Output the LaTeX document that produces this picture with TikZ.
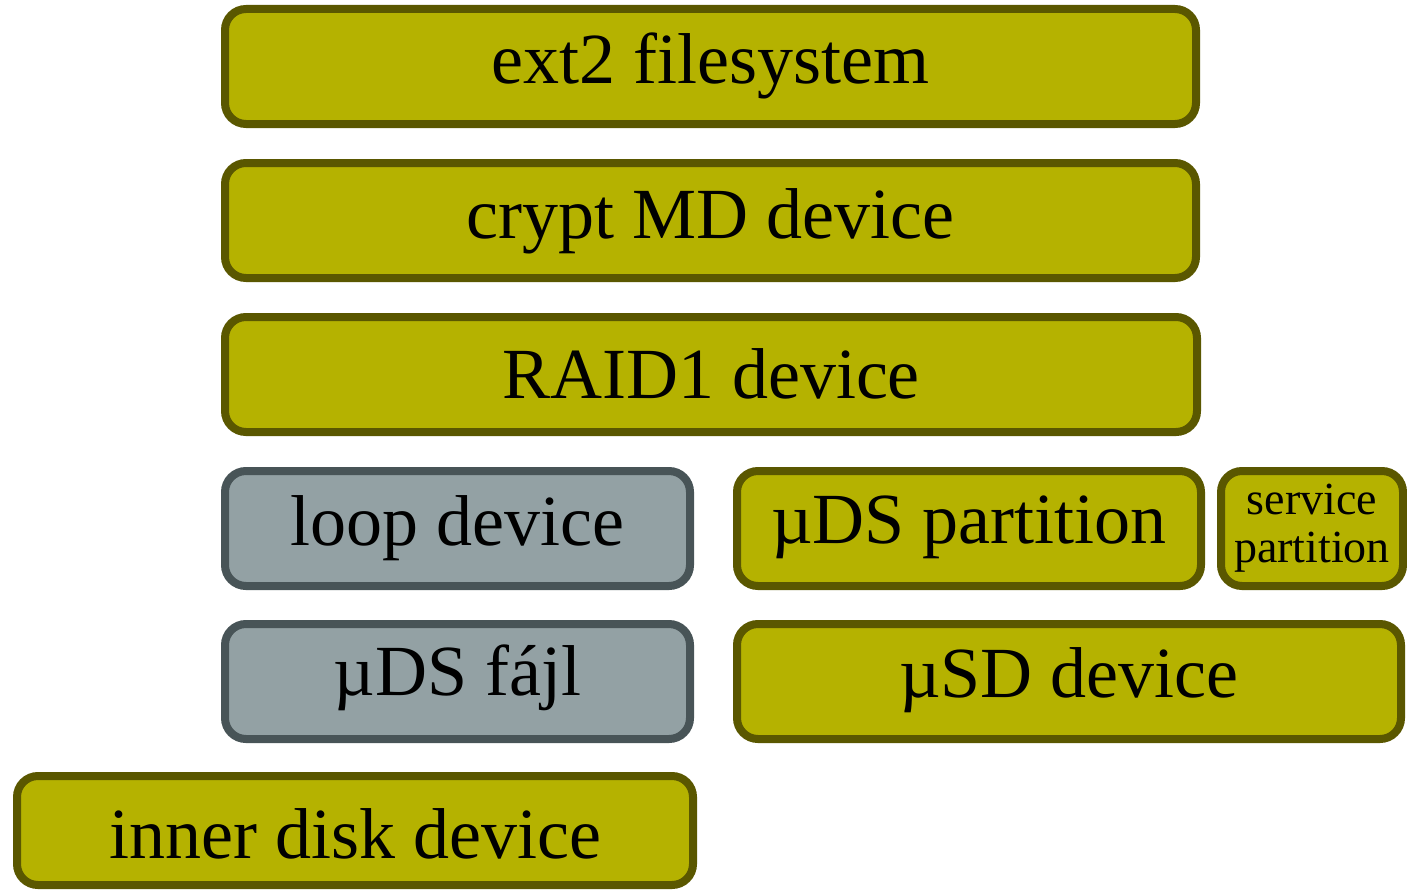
\documentclass[tikz,border=0pt]{standalone}
\usepackage{fontspec}
\setmainfont{Liberation Serif}
\definecolor{olivefill}{RGB}{181,178,0}
\definecolor{olivedark}{RGB}{90,87,0}
\definecolor{greyfill}{RGB}{147,161,164}
\definecolor{greydark}{RGB}{72,84,87}
\tikzset{
  layer/.style={draw=olivedark, fill=olivefill, line width=8pt,
    rounded corners=21pt, inner sep=0pt, anchor=base,
    font=\fontsize{72}{80}\selectfont},
  greylayer/.style={layer, draw=greydark, fill=greyfill},
}
\begin{document}
\begin{tikzpicture}[x=1pt,y=-1pt]
  \useasboundingbox (0,0) rectangle (1407,891);
  % upper stack
  \node[layer, minimum width=971pt, text height=74pt, text depth=41pt]
    (ext) at (710.5,83) {ext2 filesystem};
  \node[layer, minimum width=971pt, text height=75pt, text depth=40pt]
    (crypt) at (710.5,238) {crypt MD device};
  \node[layer, minimum width=972pt, text height=81pt, text depth=34pt]
    (raid) at (711,398) {RAID1 device};
  % left branch: file-backed loop device
  \node[greylayer, minimum width=465pt, text height=74pt, text depth=41pt]
    (loop) at (457.5,545) {loop device};
  \node[greylayer, minimum width=465pt, text height=71pt, text depth=44pt]
    (file) at (457.5,695) {µDS fájl};
  \node[layer, minimum width=676pt, text height=82pt, text depth=27pt]
    (inner) at (355,858) {inner disk device};
  % right branch: card partitions
  \node[layer, minimum width=464pt, text height=72pt, text depth=43pt]
    (part) at (969,543) {µDS partition};
  \node[layer, anchor=center, minimum width=182pt, minimum height=115pt,
    align=center, font=\fontsize{46}{48}\selectfont]
    (service) at (1312,528.5) {service\\partition};
  \node[layer, minimum width=664pt, text height=73pt, text depth=42pt]
    (sd) at (1069,697) {µSD device};
\end{tikzpicture}
\end{document}
